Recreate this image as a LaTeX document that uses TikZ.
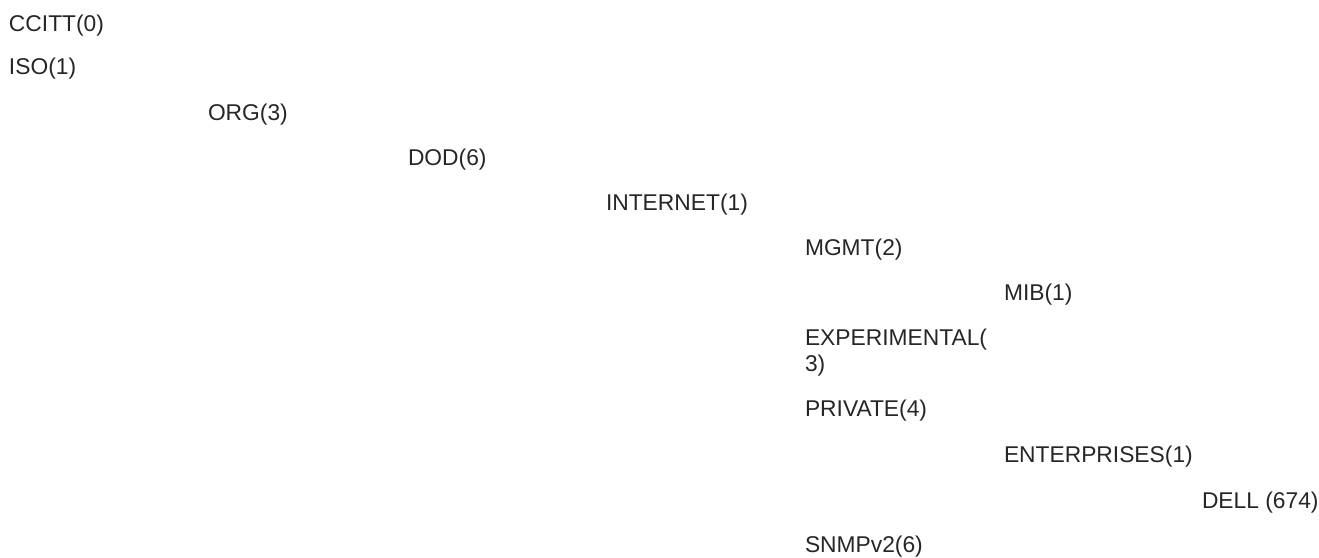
\documentclass[tikz,border=0pt]{standalone}
\usepackage{fontspec}
\setmainfont{Liberation Sans}
\tikzset{
  lbl/.style={anchor=west, inner sep=0pt, outer sep=0pt, text=black!85,
              font=\fontsize{22.8}{26}\selectfont, align=left}
}
\begin{document}
\begin{tikzpicture}[x=1pt,y=-1pt]
\useasboundingbox (0,0) rectangle (1319,557);
\node[lbl] (ccitt) at (9,26) {CCITT(0)};
\node[lbl] (iso) at (9,69) {ISO(1)};
\node[lbl] (org) at (208,115) {ORG(3)};
\node[lbl] (dod) at (408,160) {DOD(6)};
\node[lbl] (internet) at (606,205) {INTERNET(1)};
\node[lbl] (mgmt) at (805,250) {MGMT(2)};
\node[lbl] (mib) at (1004,295) {MIB(1)};
\node[lbl] (exp) at (805,353) {EXPERIMENTAL(\\3)};
\node[lbl] (private) at (805,411) {PRIVATE(4)};
\node[lbl] (ent) at (1004,457) {ENTERPRISES(1)};
\node[lbl] (dell) at (1202,503) {DELL (674)};
\node[lbl] (snmp) at (805,547) {SNMPv2(6)};
\end{tikzpicture}
\end{document}
